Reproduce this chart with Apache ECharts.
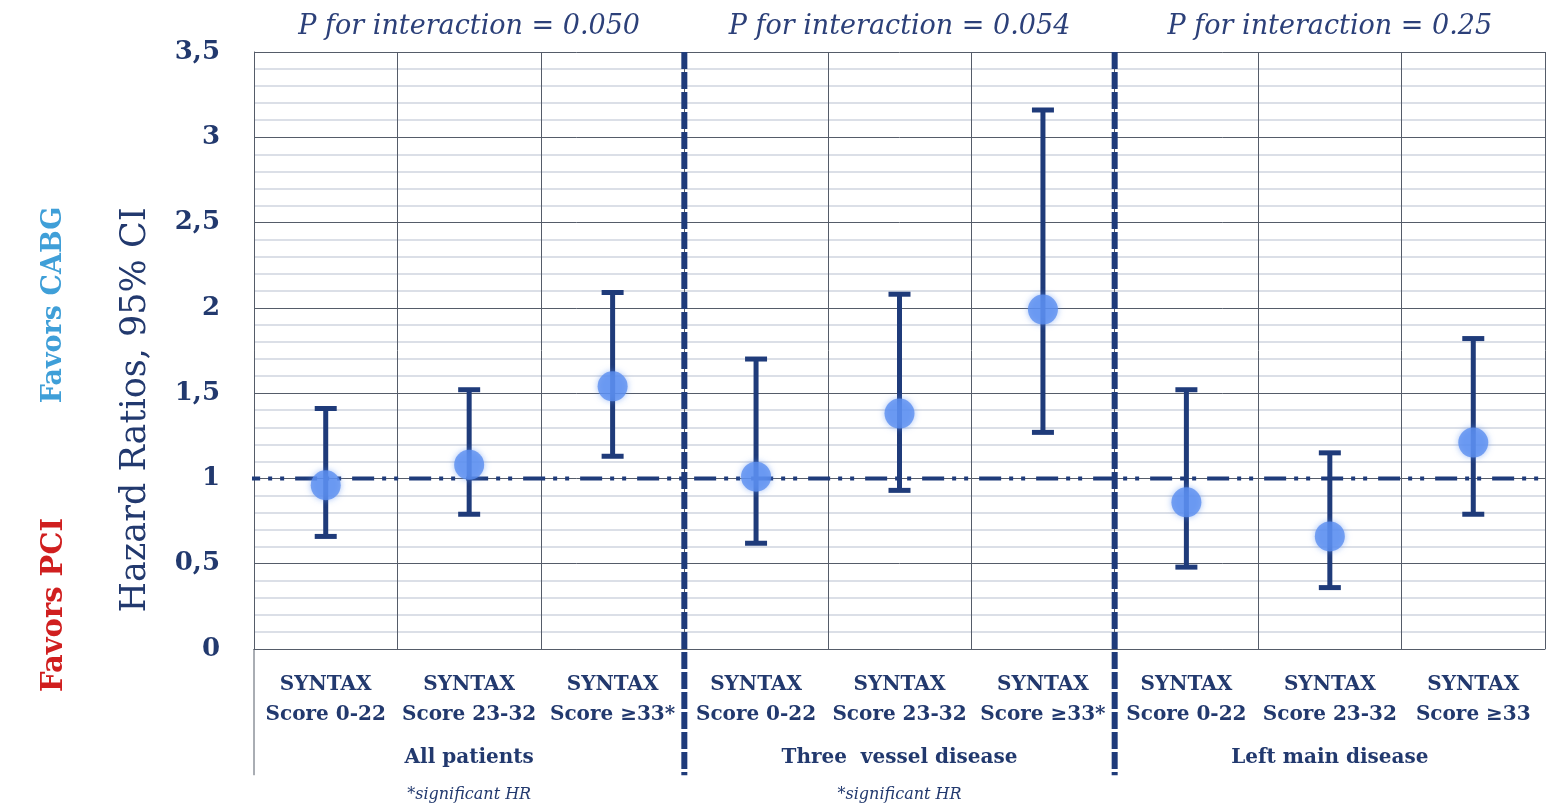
<!DOCTYPE html>
<html>
<head>
<meta charset="utf-8">
<title>Hazard Ratios by SYNTAX Score</title>
<script src="https://cdn.jsdelivr.net/npm/echarts@6/dist/echarts.min.js"></script>
<style>
  html, body { margin: 0; padding: 0; background: #ffffff; }
  #chart { width: 1550px; height: 810px; }
</style>
</head>
<body>
<div id="chart"></div>
<script>
// Subgroup categories (one per SYNTAX tercile inside each disease group)
const categories = [
  'SYNTAX\nScore 0-22', 'SYNTAX\nScore 23-32', 'SYNTAX\nScore ≥33*',
  'SYNTAX\nScore 0-22', 'SYNTAX\nScore 23-32', 'SYNTAX\nScore ≥33*',
  'SYNTAX\nScore 0-22', 'SYNTAX\nScore 23-32', 'SYNTAX\nScore ≥33'
];
const groups = ['All patients', 'Three  vessel disease', 'Left main disease'];
const interactionLabels = [
  'P for interaction = 0.050',
  'P for interaction = 0.054',
  'P for interaction = 0.25'
];
const footnotes = ['*significant HR', '*significant HR', ''];

// Hazard ratios with 95% confidence limits
const hazardRatio = [0.96, 1.08, 1.54, 1.01, 1.38, 1.99, 0.86, 0.66, 1.21];
const ciLower     = [0.66, 0.79, 1.13, 0.62, 0.93, 1.27, 0.48, 0.36, 0.79];
const ciUpper     = [1.41, 1.52, 2.09, 1.70, 2.08, 3.16, 1.52, 1.15, 1.82];

// Axis range and the reference value of no difference
const yMin = 0, yMax = 3.5, yStep = 0.5;
const referenceHR = 1;
// Group boundaries on the 0..9 continuous position scale
const groupBoundaries = [3, 6];
const labelAreaBottom = -0.74;   // how far below 0 the separators reach
const refLineStart = -1.7;       // reference line runs out into the left margin

const NAVY = '#1f3b7a';
const TEXT_NAVY = '#22396e';
const GRID_DARK = '#555c69';
const DOT = '#5b8ff0';
const SERIF = '"DejaVu Serif", "Liberation Serif", serif';

const chart = echarts.init(document.getElementById('chart'), null, { renderer: 'canvas' });

const errorBarData = hazardRatio.map((_, i) => [i, ciLower[i], ciUpper[i]]);

const separatorSeries = groupBoundaries.map(b => ({
  type: 'line',
  xAxisIndex: 4,
  yAxisIndex: 0,
  data: [[b, yMax], [b, labelAreaBottom]],
  symbol: 'none',
  clip: false,
  silent: true,
  z: 4,
  lineStyle: { color: NAVY, width: 6, type: [17, 3] }
}));

const option = {
  animation: false,
  backgroundColor: '#ffffff',
  grid: { left: 254, right: 5, top: 52, bottom: 161, containLabel: false },
  xAxis: [
    {
      type: 'category',
      data: categories,
      position: 'bottom',
      boundaryGap: true,
      axisLine: { show: true, lineStyle: { color: GRID_DARK, width: 1 } },
      axisTick: { show: false },
      axisLabel: {
        interval: 0,
        margin: 21,
        color: TEXT_NAVY,
        fontFamily: SERIF,
        fontWeight: 'bold',
        fontSize: 20,
        lineHeight: 30
      },
      splitLine: { show: true, interval: 0, lineStyle: { color: GRID_DARK, width: 1 } }
    },
    {
      type: 'category',
      data: groups,
      position: 'bottom',
      axisLine: { show: false },
      axisTick: { show: false },
      splitLine: { show: false },
      axisLabel: {
        interval: 0,
        margin: 99,
        color: TEXT_NAVY,
        fontFamily: SERIF,
        fontWeight: 'bold',
        fontSize: 20
      }
    },
    {
      type: 'category',
      data: interactionLabels,
      position: 'top',
      axisLine: { show: false },
      axisTick: { show: false },
      splitLine: { show: false },
      axisLabel: {
        interval: 0,
        margin: 12,
        color: '#2c4079',
        fontFamily: SERIF,
        fontStyle: 'italic',
        fontSize: 27
      }
    },
    {
      type: 'category',
      data: footnotes,
      position: 'bottom',
      axisLine: { show: false },
      axisTick: { show: false },
      splitLine: { show: false },
      axisLabel: {
        interval: 0,
        margin: 138,
        color: TEXT_NAVY,
        fontFamily: SERIF,
        fontStyle: 'italic',
        fontSize: 16
      }
    },
    {
      type: 'value',
      min: 0,
      max: categories.length,
      show: false
    }
  ],
  yAxis: [
    {
      type: 'value',
      min: yMin,
      max: yMax,
      interval: yStep,
      axisLine: { show: true, lineStyle: { color: GRID_DARK, width: 1 } },
      axisTick: { show: false },
      axisLabel: {
        margin: 34,
        color: TEXT_NAVY,
        fontFamily: SERIF,
        fontWeight: 'bold',
        fontSize: 26,
        formatter: v => String(v).replace('.', ',')
      },
      splitLine: { show: true, lineStyle: { color: GRID_DARK, width: 1 } },
      minorTick: { show: false, splitNumber: 5 },
      minorSplitLine: { show: true, lineStyle: { color: '#cfd5df', width: 1.5 } }
    }
  ],
  graphic: [
    {
      type: 'text',
      x: 136, y: 410,
      rotation: Math.PI / 2,
      style: {
        text: 'Hazard Ratios, 95% CI',
        fill: TEXT_NAVY,
        font: '35px ' + SERIF,
        align: 'center',
        verticalAlign: 'middle'
      }
    },
    {
      type: 'text',
      x: 54, y: 305,
      rotation: Math.PI / 2,
      style: {
        text: 'Favors CABG',
        fill: '#3f9fd8',
        font: 'bold 27px ' + SERIF,
        align: 'center',
        verticalAlign: 'middle'
      }
    },
    {
      type: 'text',
      x: 54, y: 605,
      rotation: Math.PI / 2,
      style: {
        text: 'Favors PCI',
        fill: '#d01f1f',
        font: 'bold 29px ' + SERIF,
        align: 'center',
        verticalAlign: 'middle'
      }
    }
  ],
  series: [
    // Left border continued down through the label area
    {
      type: 'line',
      xAxisIndex: 4,
      yAxisIndex: 0,
      data: [[0, 0], [0, labelAreaBottom]],
      symbol: 'none',
      clip: false,
      silent: true,
      lineStyle: { color: GRID_DARK, width: 1 }
    },
    // Reference line at HR = 1 (dash-dot-dot)
    {
      type: 'line',
      xAxisIndex: 4,
      yAxisIndex: 0,
      data: [[refLineStart, referenceHR], [categories.length, referenceHR]],
      symbol: 'none',
      clip: false,
      silent: true,
      z: 3,
      lineStyle: { color: NAVY, width: 4, type: [22, 8, 4, 8, 4, 11] }
    },
    ...separatorSeries,
    // 95% CI whiskers with caps
    {
      type: 'custom',
      xAxisIndex: 0,
      yAxisIndex: 0,
      data: errorBarData,
      z: 5,
      renderItem: (params, api) => {
        const lo = api.coord([api.value(0), api.value(1)]);
        const hi = api.coord([api.value(0), api.value(2)]);
        const half = 11;
        const style = { stroke: NAVY, lineWidth: 5, lineCap: 'butt' };
        return {
          type: 'group',
          children: [
            { type: 'line', shape: { x1: lo[0], y1: lo[1], x2: hi[0], y2: hi[1] }, style },
            { type: 'line', shape: { x1: hi[0] - half, y1: hi[1], x2: hi[0] + half, y2: hi[1] }, style },
            { type: 'line', shape: { x1: lo[0] - half, y1: lo[1], x2: lo[0] + half, y2: lo[1] }, style }
          ]
        };
      }
    },
    // Point estimates
    {
      type: 'scatter',
      xAxisIndex: 0,
      yAxisIndex: 0,
      data: hazardRatio,
      symbol: 'circle',
      symbolSize: 30,
      z: 6,
      itemStyle: {
        color: DOT,
        shadowBlur: 6,
        shadowColor: 'rgba(91,143,240,0.7)'
      }
    }
  ]
};

chart.setOption(option);
</script>
</body>
</html>
